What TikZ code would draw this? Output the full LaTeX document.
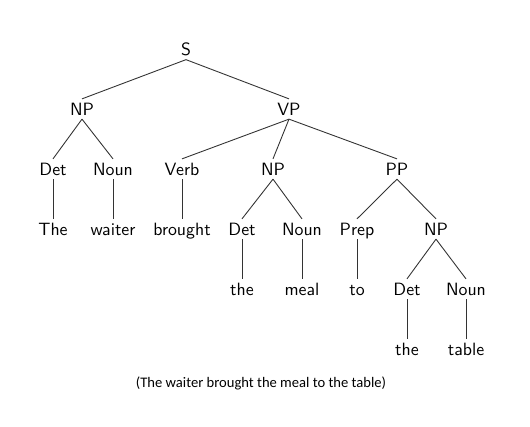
\documentclass[tikz,border=0pt]{standalone}
\usepackage{fontspec}
\newfontfamily\capfont{Carlito}
\tikzset{
	cat/.style={font=\sffamily, text height=7pt, text depth=0pt, inner xsep=0pt, inner ysep=2pt},
	branch/.style={line width=0.5pt, black!80}
}
\begin{document}
\begin{tikzpicture}[x=0.562pt, y=-0.562pt]
			\useasboundingbox (0,0) rectangle (530,426);

			\node[cat] (s)     at (186, 49.5) {S};

			\node[cat] (np1)   at ( 82,109) {NP};
			\node[cat] (vp)    at (289,109) {VP};

			\node[cat] (det1)  at ( 53,169) {Det};
			\node[cat] (noun1) at (113,169) {Noun};
			\node[cat] (verb)  at (182,169) {Verb};
			\node[cat] (np2)   at (273,169) {NP};
			\node[cat] (pp)    at (397,169) {PP};

			\node[cat] (w1)    at ( 53,229) {The};
			\node[cat] (w2)    at (113,229) {waiter};
			\node[cat] (w3)    at (182,229) {brought};
			\node[cat] (det2)  at (242,229) {Det};
			\node[cat] (noun2) at (302,229) {Noun};
			\node[cat] (prep)  at (357,229) {Prep};
			\node[cat] (np3)   at (436,229) {NP};

			\node[cat] (w4)    at (242,289) {the};
			\node[cat] (w5)    at (302,289) {meal};
			\node[cat] (w6)    at (357,289) {to};
			\node[cat] (det3)  at (407,289) {Det};
			\node[cat] (noun3) at (466,289) {Noun};

			\node[cat] (w7)    at (407,349) {the};
			\node[cat] (w8)    at (466,349) {table};

			\draw[branch] (s.south)     -- (np1.north);
			\draw[branch] (s.south)     -- (vp.north);
			\draw[branch] (np1.south)   -- (det1.north);
			\draw[branch] (np1.south)   -- (noun1.north);
			\draw[branch] (vp.south)    -- (verb.north);
			\draw[branch] (vp.south)    -- (np2.north);
			\draw[branch] (vp.south)    -- (pp.north);
			\draw[branch] (det1.south)  -- (w1.north);
			\draw[branch] (noun1.south) -- (w2.north);
			\draw[branch] (verb.south)  -- (w3.north);
			\draw[branch] (np2.south)   -- (det2.north);
			\draw[branch] (np2.south)   -- (noun2.north);
			\draw[branch] (pp.south)    -- (prep.north);
			\draw[branch] (pp.south)    -- (np3.north);
			\draw[branch] (det2.south)  -- (w4.north);
			\draw[branch] (noun2.south) -- (w5.north);
			\draw[branch] (prep.south)  -- (w6.north);
			\draw[branch] (np3.south)   -- (det3.north);
			\draw[branch] (np3.south)   -- (noun3.north);
			\draw[branch] (det3.south)  -- (w7.north);
			\draw[branch] (noun3.south) -- (w8.north);

			\node[font=\capfont\fontsize{8.2}{10}\selectfont] (caption) at (261,383) {(The waiter brought the meal to the table)};
		\end{tikzpicture}
\end{document}
